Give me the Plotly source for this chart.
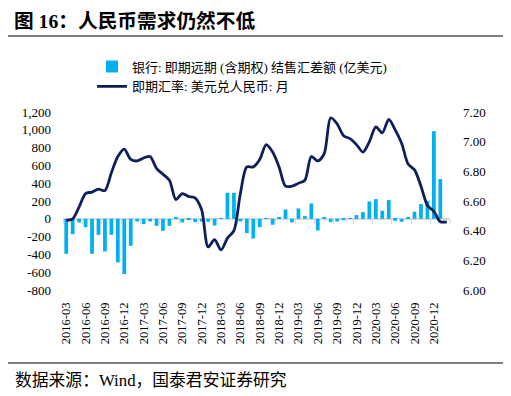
import plotly.graph_objects as go

# ---------------- data ----------------
months = [f"{y}-{m:02d}" for y in range(2016, 2022) for m in range(1, 13)]
months = months[months.index("2016-03"):months.index("2021-02") + 1]

# 银行：即期远期（含期权）结售汇差额（亿美元）
net_fx = [
    -393, -172, -41, -94, -393, -180, -367, -180, -490, -622,   # 2016-03 .. 2016-12
    -303, -30, -60, -30, -79, -135, -79, 19, -41, -6, -37, -30,  # 2017
    -34, -75, 8, 292, 292, -30, -161, -221, -94, 6, -67, 15,     # 2018
    105, -41, 116, 30, 172, -131, 19, -37, -30, -15, 5, 41,      # 2019
    75, 195, 221, 90, 210, -22, -34, 19, 79, 165, 202, 985,      # 2020
    446, None,                                                   # 2021-01 .. 2021-02
]

# 即期汇率：美元兑人民币：月
usdcny = [
    6.47, 6.48, 6.56, 6.65, 6.66, 6.68, 6.67, 6.79, 6.90, 6.95,
    6.88, 6.87, 6.89, 6.90, 6.82, 6.78, 6.74, 6.61, 6.65, 6.63, 6.62, 6.54,
    6.29, 6.34, 6.27, 6.35, 6.40, 6.65, 6.83, 6.83, 6.88, 6.98, 6.93, 6.83,
    6.70, 6.70, 6.72, 6.74, 6.90, 6.87, 6.92, 7.16, 7.12, 7.04, 7.02, 6.98,
    6.93, 7.00, 7.10, 7.06, 7.15, 7.08, 6.99, 6.85, 6.81, 6.70, 6.57, 6.53,
    6.46, 6.46,
]

left_ticks = [-800, -600, -400, -200, 0, 200, 400, 600, 800, 1000, 1200]
left_tick_labels = ["-800", "-600", "-400", "-200", "0", "200", "400", "600", "800", "1,000", "1,200"]
right_ticks = [6.0, 6.2, 6.4, 6.6, 6.8, 7.0, 7.2]
right_tick_labels = ["6.00", "6.20", "6.40", "6.60", "6.80", "7.00", "7.20"]
x_tick_labels = months[::3]  # 2016-03 ... 2020-12

bar_name = "银行: 即期远期 (含期权) 结售汇差额 (亿美元)"
line_name = "即期汇率: 美元兑人民币: 月"
title_text = "图 16：人民币需求仍然不低"
source_text = "数据来源：Wind，国泰君安证券研究"

# ---------------- layout constants ----------------
OFF = 8                      # page body margin of the browser
W, H = 511 - OFF, 396 - OFF  # figure size so that it fits the window
L, R, T, B = 63 - OFF, 61, 112 - OFF, 106
PW, PH = W - L - R, H - T - B
FONT = "Liberation Serif, Noto Sans CJK SC, serif"
BAR_COLOR = "#00B0F0"
LINE_COLOR = "#0D1F5C"


def px_x(px):  # window pixel -> paper fraction
    return (px - OFF - L) / PW


def px_y(py):
    return (H - B - (py - OFF)) / PH


def cx(px):  # window pixel -> container fraction
    return (px - OFF) / W


def cy(py):
    return 1 - (py - OFF) / H


fig = go.Figure()
fig.add_trace(go.Bar(
    x=months, y=net_fx, name=bar_name, marker_color=BAR_COLOR,
    marker_line_width=0, xaxis="x", yaxis="y",
))
fig.add_trace(go.Scatter(
    x=months, y=usdcny, name=line_name, mode="lines",
    line=dict(color=LINE_COLOR, width=2.8, shape="spline", smoothing=0.8),
    xaxis="x2", yaxis="y2",
))

fig.update_layout(
    width=W, height=H,
    margin=dict(l=L, r=R, t=T, b=B, pad=0, autoexpand=False),
    paper_bgcolor="white", plot_bgcolor="white",
    font=dict(family=FONT, color="#000000", size=13),
    bargap=0.42,
    showlegend=True,
    legend=dict(
        xref="container", yref="container",
        x=cx(92), y=cy(51.5), xanchor="left", yanchor="top",
        font=dict(family=FONT, size=13, color="#000000"),
        bgcolor="rgba(0,0,0,0)", borderwidth=0,
        tracegroupgap=0,
    ),
    title=dict(
        text=title_text, xref="container", yref="container",
        x=cx(14), y=cy(21), xanchor="left", yanchor="middle",
        font=dict(family=FONT, size=19.7, color="#000000", weight="bold"),
    ),
    xaxis=dict(
        type="category", categoryorder="array", categoryarray=months,
        range=[-0.5, len(months) - 0.5],
        tickmode="array", tickvals=x_tick_labels, ticktext=x_tick_labels,
        tickangle=-90, ticks="", showline=False, showgrid=False, zeroline=False,
        tickfont=dict(family=FONT, size=12.5, color="#000000"),
        ticklabelstandoff=9,
    ),
    xaxis2=dict(
        type="category", categoryorder="array", categoryarray=months,
        range=[-0.5, len(months) - 0.5],
        overlaying="x", anchor="free", position=800 / 2000,
        showline=True, linecolor="#D9D9D9", linewidth=1.5,
        ticks="outside", ticklen=4, tickcolor="#D9D9D9", tickwidth=1,
        tickson="boundaries", tickmode="linear", tick0=0, dtick=3,
        showticklabels=False, showgrid=False, zeroline=False, layer="below traces",
    ),
    yaxis=dict(
        range=[-800, 1200], tickmode="array", tickvals=left_ticks, ticktext=left_tick_labels,
        showgrid=False, zeroline=False, showline=False, ticks="",
        tickfont=dict(family=FONT, size=13, color="#000000"),
        ticklabelstandoff=11,
    ),
    yaxis2=dict(
        range=[6.0, 7.2], tickmode="array", tickvals=right_ticks, ticktext=right_tick_labels,
        overlaying="y", side="right", anchor="x2",
        showgrid=False, zeroline=False, showline=False, ticks="",
        tickfont=dict(family=FONT, size=13, color="#000000"),
        ticklabelstandoff=12,
    ),
)

# header / footer rules
for py in (36, 363):
    fig.add_shape(type="line", xref="paper", yref="paper",
                  x0=px_x(OFF), x1=px_x(505), y0=px_y(py), y1=px_y(py),
                  line=dict(color="#000000", width=1.2))

fig.add_annotation(
    text=source_text, xref="paper", yref="paper",
    x=px_x(13), y=px_y(380), xanchor="left", yanchor="middle", showarrow=False,
    font=dict(family=FONT, size=16.8, color="#000000"),
)

fig.write_html("out.html")
